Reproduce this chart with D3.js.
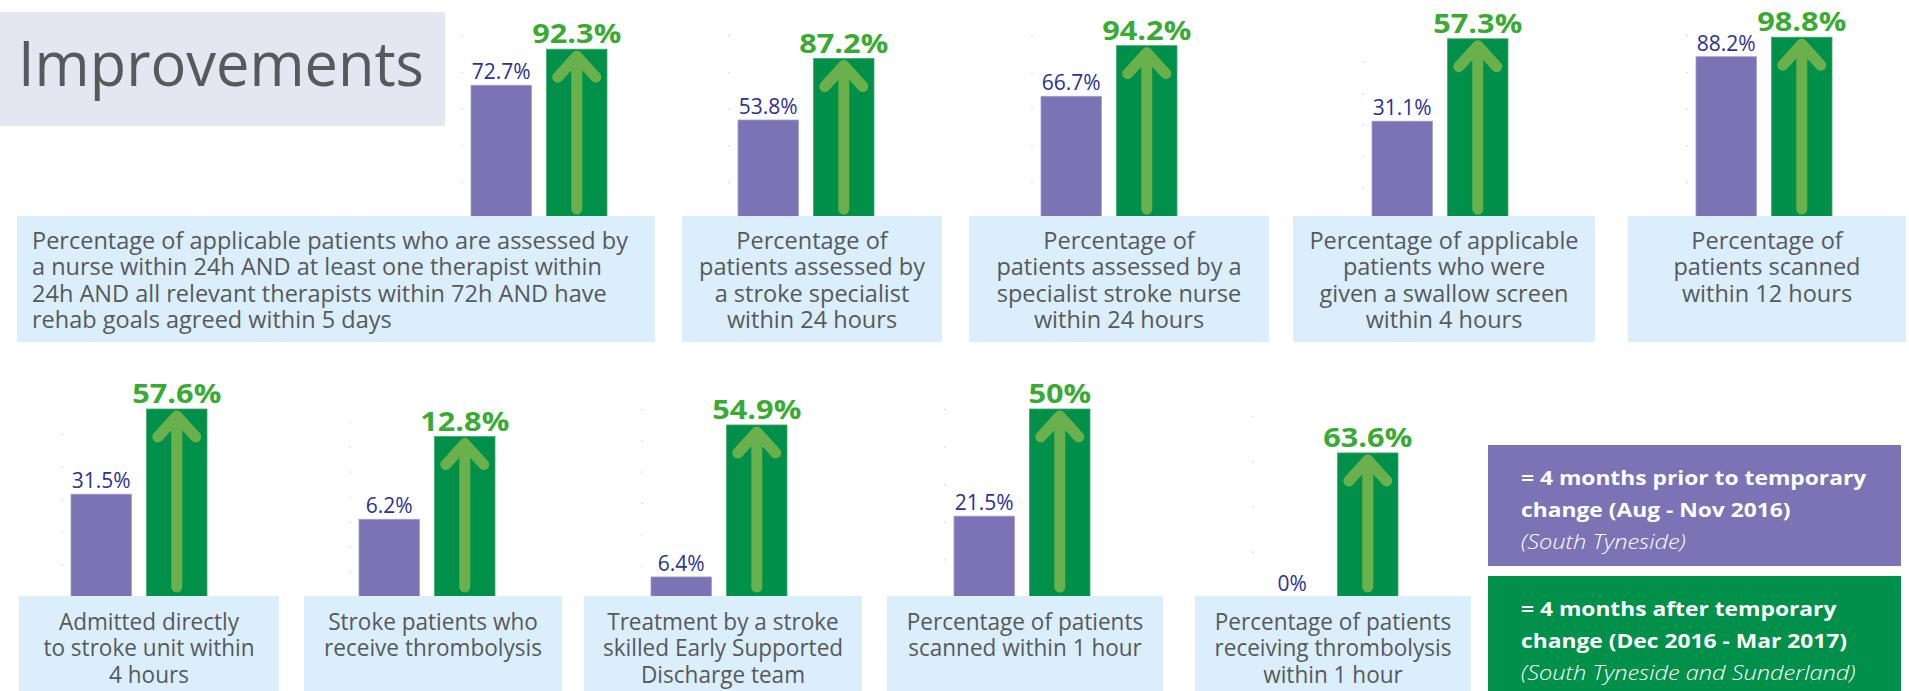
<!DOCTYPE html>
<html>
<head>
<meta charset="utf-8">
<script src="https://cdn.jsdelivr.net/npm/d3@7"></script>
<style>
  html, body { margin: 0; padding: 0; background: #fff; overflow: hidden; }
  svg { display: block; font-family: "Open Sans", "Noto Sans", sans-serif; }
</style>
</head>
<body>
<svg id="chart"></svg>
<script>
// measures, one per panel (top row then bottom row)
var measureLines = [
	["Percentage of applicable patients who are assessed by", "a nurse within 24h AND at least one therapist within", "24h AND all relevant therapists within 72h AND have", "rehab goals agreed within 5 days"],
	["Percentage of", "patients assessed by", "a stroke specialist", "within 24 hours"],
	["Percentage of", "patients assessed by a", "specialist stroke nurse", "within 24 hours"],
	["Percentage of applicable", "patients who were", "given a swallow screen", "within 4 hours"],
	["Percentage of", "patients scanned", "within 12 hours"],
	["Admitted directly", "to stroke unit within", "4 hours"],
	["Stroke patients who", "receive thrombolysis"],
	["Treatment by a stroke", "skilled Early Supported", "Discharge team"],
	["Percentage of patients", "scanned within 1 hour"],
	["Percentage of patients", "receiving thrombolysis", "within 1 hour"]
];
var periods = ["before", "after"];
var beforeValues = [72.7, 53.8, 66.7, 31.1, 88.2, 31.5, 6.2, 6.4, 21.5, 0];
var afterValues = [92.3, 87.2, 94.2, 57.3, 98.8, 57.6, 12.8, 54.9, 50, 63.6];
// each panel has its own value axis in the original
var axisMax = [100, 100, 100, 58.5, 100, 57.6, 15, 60, 50, 83];
var legendLines = [
	["= 4 months prior to temporary", "change (Aug - Nov 2016)", "(South Tyneside)"],
	["= 4 months after temporary", "change (Dec 2016 - Mar 2017)", "(South Tyneside and Sunderland)"]
];
var titleText = "Improvements";

var W = 1909, H = 691;
var colors = {
	before: "#7b73b3", after: "#00904a", arrow: "#6ab04c",
	box: "#dbeefb", title: "#e6e6f2", text: "#58595b",
	beforeLabel: "#2e3192", afterLabel: "#3aaa35"
};

// layout: rows and panel placement
var rows = [
	{baseline: 219, plotH: 184, boxTop: 216, boxBottom: 342, firstLine: 33, squeeze: 0.98},
	{baseline: 597, plotH: 188, boxTop: 596, boxBottom: 691, firstLine: 34, squeeze: 0.94}
];
var panels = [
	{row: 0, x: 471, boxL: 17, boxR: 655, align: "start"},
	{row: 0, x: 738, boxL: 682, boxR: 942},
	{row: 0, x: 1041, boxL: 969, boxR: 1269},
	{row: 0, x: 1372, boxL: 1293, boxR: 1595},
	{row: 0, x: 1696, boxL: 1628, boxR: 1906},
	{row: 1, x: 71, boxL: 19, boxR: 279},
	{row: 1, x: 359, boxL: 304, boxR: 562},
	{row: 1, x: 651, boxL: 584, boxR: 862},
	{row: 1, x: 954, boxL: 887, boxR: 1163},
	{row: 1, x: 1262, boxL: 1195, boxR: 1471}
];

var svg = d3.select("#chart").attr("width", W).attr("height", H);

var fmt = function(v) { return (Number.isInteger(v) ? v : v.toFixed(1)) + "%"; };

// title
svg.append("rect").attr("x", 0).attr("y", 12).attr("width", 445).attr("height", 114)
	.attr("fill", colors.title);
svg.append("text")
	.attr("transform", "translate(18,86) scale(0.96,1)")
	.attr("font-size", 62).attr("fill", colors.text)
	.text(titleText);

var x = d3.scaleBand().domain(periods).range([0, 136]).paddingInner(0.2).paddingOuter(0);

panels.forEach(function(p, i) {
	var r = rows[p.row];
	var y = d3.scaleLinear().domain([0, axisMax[i]]).range([r.baseline, r.baseline - r.plotH]);
	var g = svg.append("g").attr("transform", "translate(" + p.x + ",0)");

	// faint value axis ticks
	var ax = g.append("g").attr("transform", "translate(-8,0)")
		.call(d3.axisLeft(y).ticks(5).tickSize(2).tickFormat(""));
	ax.select(".domain").remove();
	ax.selectAll("line").attr("stroke", "#d4d4d4");

	var data = [
		{period: "before", value: beforeValues[i]},
		{period: "after", value: afterValues[i]}
	];

	g.selectAll("rect.bar").data(data.filter(function(d) { return d.value > 0; }))
		.enter().append("rect")
		.attr("class", "bar")
		.attr("x", function(d) { return x(d.period); })
		.attr("y", function(d) { return y(d.value); })
		.attr("width", x.bandwidth())
		.attr("height", function(d) { return y(0) - y(d.value); })
		.attr("fill", function(d) { return colors[d.period]; })
		.attr("stroke", function(d) { return d.period == "before" ? "#a29dcf" : "#3fa86c"; })
		.attr("stroke-width", 0.8);

	// arrow on the after bar
	var cx = x("after") + x.bandwidth() / 2,
		top = y(afterValues[i]);
	var arrow = g.append("g").attr("fill", "none").attr("stroke", colors.arrow)
		.attr("stroke-width", 11).attr("stroke-linecap", "round").attr("stroke-linejoin", "round");
	arrow.append("line").attr("x1", cx).attr("x2", cx)
		.attr("y1", top + 8).attr("y2", r.baseline - 10);
	arrow.append("path")
		.attr("d", d3.line()([[cx - 19, top + 28], [cx, top + 7], [cx + 19, top + 28]]));

	// value labels
	g.append("text")
		.attr("transform", "translate(" + (x("before") + x.bandwidth() / 2) + "," + (y(beforeValues[i]) - 6) + ")")
		.attr("text-anchor", "middle").attr("font-size", 21)
		.attr("fill", colors.beforeLabel)
		.text(fmt(beforeValues[i]));
	g.append("text")
		.attr("transform", "translate(" + cx + "," + (top - 6) + ") scale(1.18,1)")
		.attr("text-anchor", "middle").attr("font-size", 26).attr("font-weight", "bold")
		.attr("fill", colors.afterLabel)
		.text(fmt(afterValues[i]));

	// description box
	svg.append("rect")
		.attr("x", p.boxL).attr("y", r.boxTop)
		.attr("width", p.boxR - p.boxL).attr("height", r.boxBottom - r.boxTop)
		.attr("fill", colors.box);
	var tx = p.align == "start" ? p.boxL + 15 : (p.boxL + p.boxR) / 2;
	var tg = svg.append("g").attr("transform", "translate(" + tx + "," + r.boxTop + ") scale(" + r.squeeze + ",1)");
	tg.selectAll("text").data(measureLines[i]).enter().append("text")
		.attr("x", 0)
		.attr("y", function(d, j) { return r.firstLine + j * 26.5; })
		.attr("text-anchor", p.align == "start" ? "start" : "middle")
		.attr("font-size", 24).attr("fill", colors.text)
		.text(function(d) { return d; });
});

// legend
var legendBoxes = [
	{fill: colors.before, top: 445, bottom: 566},
	{fill: colors.after, top: 576, bottom: 691}
];
legendBoxes.forEach(function(b, i) {
	svg.append("rect").attr("x", 1488).attr("y", b.top)
		.attr("width", 1901 - 1488).attr("height", b.bottom - b.top)
		.attr("fill", b.fill);
	var lg = svg.append("g").attr("transform", "translate(1521," + b.top + ")");
	lg.selectAll("text").data(legendLines[i]).enter().append("text")
		.attr("transform", function(d, j) {
			return "translate(0," + (40 + j * 32) + ") scale(" + (j == 2 ? 1.18 : 1.14) + ",1)";
		})
		.attr("font-size", 20)
		.attr("font-weight", function(d, j) { return j == 2 ? 300 : "bold"; })
		.attr("font-style", function(d, j) { return j == 2 ? "italic" : "normal"; })
		.attr("fill", "#fff")
		.text(function(d) { return d; });
});
</script>
</body>
</html>
